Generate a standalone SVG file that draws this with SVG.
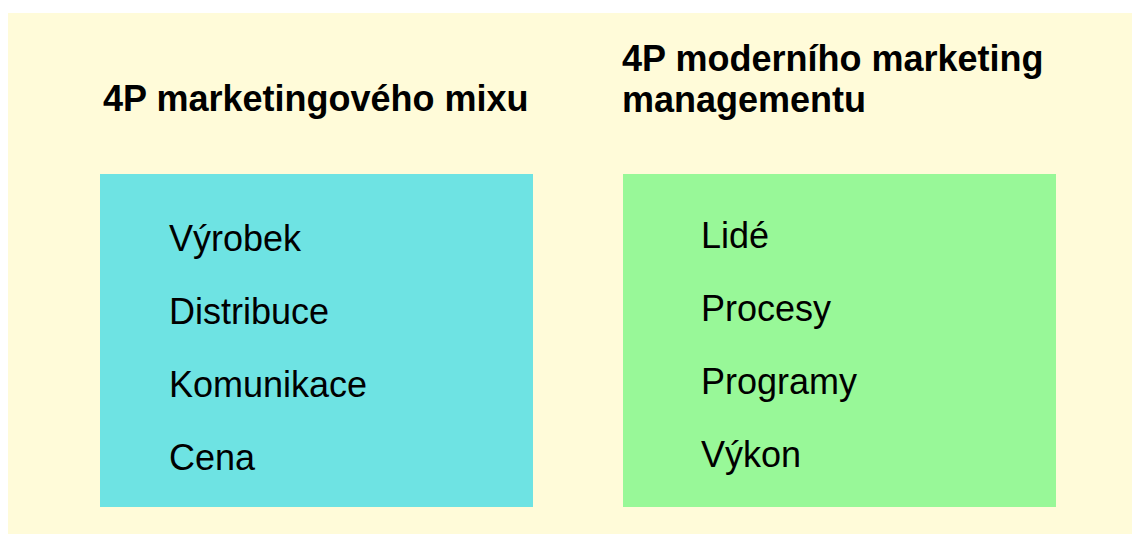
<svg xmlns="http://www.w3.org/2000/svg" width="1132" height="534" viewBox="0 0 1132 534">
<style>
.title{font-family:"Liberation Sans",Arial,sans-serif;font-weight:bold;font-size:36px;fill:#000}
.item{font-family:"Liberation Sans",Arial,sans-serif;font-size:36px;fill:#000}
</style>
<rect x="0" y="0" width="1132" height="534" fill="#ffffff"/>
<rect x="8" y="13" width="1124" height="521" fill="#fffbd9"/>
<g id="left-title">
<text class="title" x="103" y="111">4P marketingového mixu</text>
</g>
<g id="right-title">
<text class="title" x="622" y="71">4P moderního marketing</text>
<text class="title" x="622" y="112">managementu</text>
</g>
<g id="left-box">
<rect x="100" y="174" width="433" height="333" fill="#6ee3e3"/>
<text class="item" x="169" y="251">Výrobek</text>
<text class="item" x="169" y="324">Distribuce</text>
<text class="item" x="169" y="397">Komunikace</text>
<text class="item" x="169" y="470">Cena</text>
</g>
<g id="right-box">
<rect x="623" y="174" width="433" height="333" fill="#98f898"/>
<text class="item" x="701" y="248">Lidé</text>
<text class="item" x="701" y="321">Procesy</text>
<text class="item" x="701" y="394">Programy</text>
<text class="item" x="701" y="467">Výkon</text>
</g>
<g id="connectors"></g>
</svg>
